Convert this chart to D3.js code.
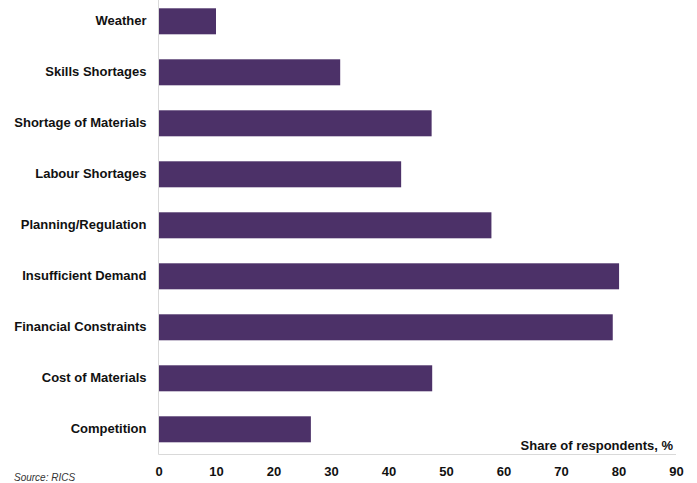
<!DOCTYPE html>
<html>
<head>
<meta charset="utf-8">
<script src="https://cdn.jsdelivr.net/npm/d3@7"></script>
<style>
  html, body { margin: 0; padding: 0; background: #fff; }
  svg { display: block; }
  text { font-family: "Liberation Sans", Arial, sans-serif; }
</style>
</head>
<body>
<script>
const categories = ["Weather", "Skills Shortages", "Shortage of Materials", "Labour Shortages",
  "Planning/Regulation", "Insufficient Demand", "Financial Constraints", "Cost of Materials", "Competition"];
const values = [10, 31.6, 47.5, 42.2, 57.9, 80.1, 79.0, 47.6, 26.5];
const xTicks = [0, 10, 20, 30, 40, 50, 60, 70, 80, 90];
const xTitle = "Share of respondents, %";
const source = "Source: RICS";

const W = 697, H = 483;
const svg = d3.select("body").append("svg").attr("width", W).attr("height", H);

const x = d3.scaleLinear().domain([0, 90]).range([158.5, 676]);
const y = d3.scaleBand().domain(categories).range([-4.2, 454.8])
  .paddingInner(0.49).paddingOuter(0.245);

// axis lines
svg.append("line").attr("x1", x(0)).attr("x2", x(0)).attr("y1", 0).attr("y2", 454.5)
  .attr("stroke", "#d9d9d9").attr("stroke-width", 1);
svg.append("line").attr("x1", x(0)).attr("x2", x(90)).attr("y1", 454.5).attr("y2", 454.5)
  .attr("stroke", "#d9d9d9").attr("stroke-width", 1);

// bars
svg.selectAll("rect.bar").data(categories).join("rect")
  .attr("class", "bar")
  .attr("x", x(0) + 0.5)
  .attr("y", d => y(d))
  .attr("width", (d, i) => x(values[i]) - x(0) - 0.5)
  .attr("height", y.bandwidth())
  .attr("fill", "#4c3168");

// category labels
const yAxis = d3.axisLeft(y).tickSize(0).tickPadding(0);
const gy = svg.append("g").attr("transform", "translate(146.5,0)").call(yAxis);
gy.select(".domain").remove();
gy.selectAll("text").attr("font-size", 13).attr("font-weight", "bold").attr("fill", "#111")
  .attr("font-family", "'Liberation Sans', Arial, sans-serif");

// x tick labels
const xAxis = d3.axisBottom(x).tickValues(xTicks).tickSize(0).tickPadding(0).tickFormat(d3.format("d"));
const gx = svg.append("g").attr("transform", "translate(0,467)").call(xAxis);
gx.select(".domain").remove();
gx.selectAll("text").attr("font-size", 13).attr("font-weight", "bold").attr("fill", "#111")
  .attr("font-family", "'Liberation Sans', Arial, sans-serif");

// x title
svg.append("text").attr("x", 673).attr("y", 449.5).attr("text-anchor", "end")
  .attr("font-size", 13).attr("font-weight", "bold").attr("fill", "#111").text(xTitle);

// source
svg.append("text").attr("x", 14).attr("y", 480.5)
  .attr("font-size", 10).attr("font-style", "italic").attr("fill", "#333").text(source);
</script>
</body>
</html>
